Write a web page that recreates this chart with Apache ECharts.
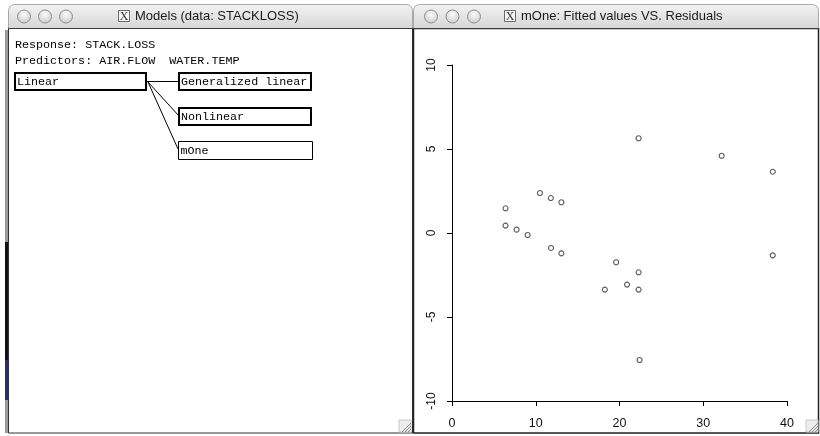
<!DOCTYPE html>
<html><head><meta charset="utf-8">
<script src="https://cdn.jsdelivr.net/npm/echarts@6/dist/echarts.min.js"></script>
<style>html,body{margin:0;padding:0;background:#fff}#c{width:820px;height:436px}</style>
</head><body><div id="c"></div>
<script>
// ---- data ----
const windowTitles = ['Models (data: STACKLOSS)', 'mOne: Fitted values VS. Residuals'];
const infoLines = ['Response: STACK.LOSS', 'Predictors: AIR.FLOW  WATER.TEMP'];
const modelNodes = ['Linear', 'Generalized linear', 'Nonlinear', 'mOne'];
const fittedValues = [22.28, 32.2, 38.3, 10.5, 11.8, 13.06, 6.39, 6.39, 7.71, 9.03, 11.82, 13.06, 19.6, 22.28, 20.9, 18.25, 22.28, 22.4, 38.3];
const residuals    = [5.64, 4.6, 3.65, 2.38, 2.08, 1.83, 1.47, 0.44, 0.2, -0.12, -0.89, -1.21, -1.74, -2.34, -3.07, -3.37, -3.37, -7.56, -1.33];
const xTicks = [0, 10, 20, 30, 40];
const yTicks = [-10, -5, 0, 5, 10];

// ---- chrome helpers ----
const barGrad = {type:'linear',x:0,y:0,x2:0,y2:1,colorStops:[{offset:0,color:'#f3f3f3'},{offset:1,color:'#d6d6d6'}]};
const btnGrad = {type:'radial',x:0.5,y:0.35,r:0.75,colorStops:[{offset:0,color:'#fcfcfc'},{offset:1,color:'#c4c4c4'}]};
function titleBar(x, w, btnX, iconX, title) {
  const els = [];
  els.push({type:'rect', shape:{x:x+0.5, y:4.5, width:w-1, height:24, r:[6,6,0,0]}, style:{fill:barGrad, stroke:'#a9a9a9', lineWidth:1}, z:10});
  els.push({type:'line', shape:{x1:x, y1:28.5, x2:x+w, y2:28.5}, style:{stroke:'#3a3a3a', lineWidth:1}, z:11});
  btnX.forEach(cx => els.push({type:'circle', shape:{cx:cx, cy:16.5, r:6.5}, style:{fill:btnGrad, stroke:'#8e8e8e', lineWidth:1}, z:11}));
  els.push({type:'rect', shape:{x:iconX+0.5, y:10.5, width:11, height:11}, style:{fill:'#f7f7f7', stroke:'#6a6a6a', lineWidth:1}, z:11});
  els.push({type:'text', x:iconX+6, y:16.5, style:{text:'X', fontFamily:'Liberation Serif', fontSize:12, fill:'#333', align:'center', verticalAlign:'middle'}, z:12});
  els.push({type:'text', x:iconX+17, y:16.5, style:{text:title, fontFamily:'Liberation Sans', fontSize:13, fill:'#1a1a1a', verticalAlign:'middle'}, z:12});
  return els;
}
function grip(x, y) {
  return [
    {type:'rect', shape:{x:x, y:y, width:12, height:12}, style:{fill:'#ececec', stroke:'#c8c8c8', lineWidth:1}, z:11},
    {type:'line', shape:{x1:x+3, y1:y+12, x2:x+12, y2:y+3}, style:{stroke:'#8a8a8a', lineWidth:1}, z:12},
    {type:'line', shape:{x1:x+6, y1:y+12, x2:x+12, y2:y+6}, style:{stroke:'#8a8a8a', lineWidth:1}, z:12},
    {type:'line', shape:{x1:x+9, y1:y+12, x2:x+12, y2:y+9}, style:{stroke:'#8a8a8a', lineWidth:1}, z:12}
  ];
}
const mono = 'Liberation Mono';
const g = [];
// desktop strip at far left
g.push({type:'rect', shape:{x:5, y:30, width:3, height:403}, style:{fill:'#9a9a9a'}, z:5});
g.push({type:'rect', shape:{x:5, y:242, width:3, height:118}, style:{fill:'#111'}, z:6});
g.push({type:'rect', shape:{x:5, y:360, width:3, height:40}, style:{fill:'#2a2a7a'}, z:6});
// window frames
g.push({type:'rect', shape:{x:8.5, y:28.5, width:404, height:404.5}, style:{fill:null, stroke:'#333', lineWidth:1}, z:9});
g.push({type:'rect', shape:{x:413.5, y:28.5, width:405, height:404.5}, style:{fill:null, stroke:'#222', lineWidth:1.5}, z:9});
g.push(...titleBar(8, 405, [24, 45, 66], 118, windowTitles[0]));
g.push(...titleBar(413, 406, [431, 452.5, 474], 504, windowTitles[1]));
g.push(...grip(399, 420), ...grip(806, 420));
// left window content
infoLines.forEach((t, i) => g.push({type:'text', x:15, y:45 + i*16, style:{text:t, fontFamily:mono, fontSize:11.7, fill:'#000', verticalAlign:'middle'}, z:12}));
const boxes = [
  {x:15, y:73, w:131, h:17, lw:2},
  {x:179, y:73, w:132, h:17, lw:2},
  {x:179, y:108, w:132, h:17, lw:2},
  {x:178.5, y:141.5, w:134, h:18, lw:1}
];
boxes.forEach((b, i) => {
  g.push({type:'rect', shape:{x:b.x, y:b.y, width:b.w, height:b.h}, style:{fill:'#fff', stroke:'#000', lineWidth:b.lw}, z:12});
  g.push({type:'text', x:b.x+2, y:b.y+b.h/2+0.5, style:{text:modelNodes[i], fontFamily:mono, fontSize:11.7, fill:'#000', verticalAlign:'middle'}, z:13});
});
g.push({type:'line', shape:{x1:147, y1:81.5, x2:178, y2:81.5}, style:{stroke:'#000', lineWidth:1}, z:11});
g.push({type:'line', shape:{x1:148, y1:82, x2:179, y2:116}, style:{stroke:'#000', lineWidth:1}, z:11});
g.push({type:'line', shape:{x1:148, y1:82, x2:178, y2:149}, style:{stroke:'#000', lineWidth:1}, z:11});

const chart = echarts.init(document.getElementById('c'), null, {renderer:'canvas'});
chart.setOption({
  backgroundColor:'#fff',
  animation:false,
  grid:{left:452, right:33, top:65, bottom:35, containLabel:false, outerBoundsMode:'none'},
  xAxis:{type:'value', min:xTicks[0], max:xTicks[xTicks.length-1], interval:xTicks[1]-xTicks[0],
    axisLine:{show:true, onZero:false, lineStyle:{color:'#000', width:1}},
    axisTick:{show:true, inside:false, length:5, lineStyle:{color:'#000'}},
    axisLabel:{show:true, margin:16, fontFamily:'Liberation Sans', fontSize:12.5, color:'#111'},
    splitLine:{show:false}},
  yAxis:{type:'value', min:yTicks[0], max:yTicks[yTicks.length-1], interval:yTicks[1]-yTicks[0],
    axisLine:{show:true, onZero:false, lineStyle:{color:'#000', width:1}},
    axisTick:{show:true, inside:false, length:5, lineStyle:{color:'#000'}},
    axisLabel:{show:true, rotate:90, margin:14, fontFamily:'Liberation Sans', fontSize:12, color:'#111'},
    splitLine:{show:false}},
  series:[{type:'scatter', data:fittedValues.map((v,i)=>[v, residuals[i]]), symbol:'circle', symbolSize:5,
    itemStyle:{color:'#fff', borderColor:'#333', borderWidth:1.1}, z:3}],
  graphic:g
});
</script></body></html>
